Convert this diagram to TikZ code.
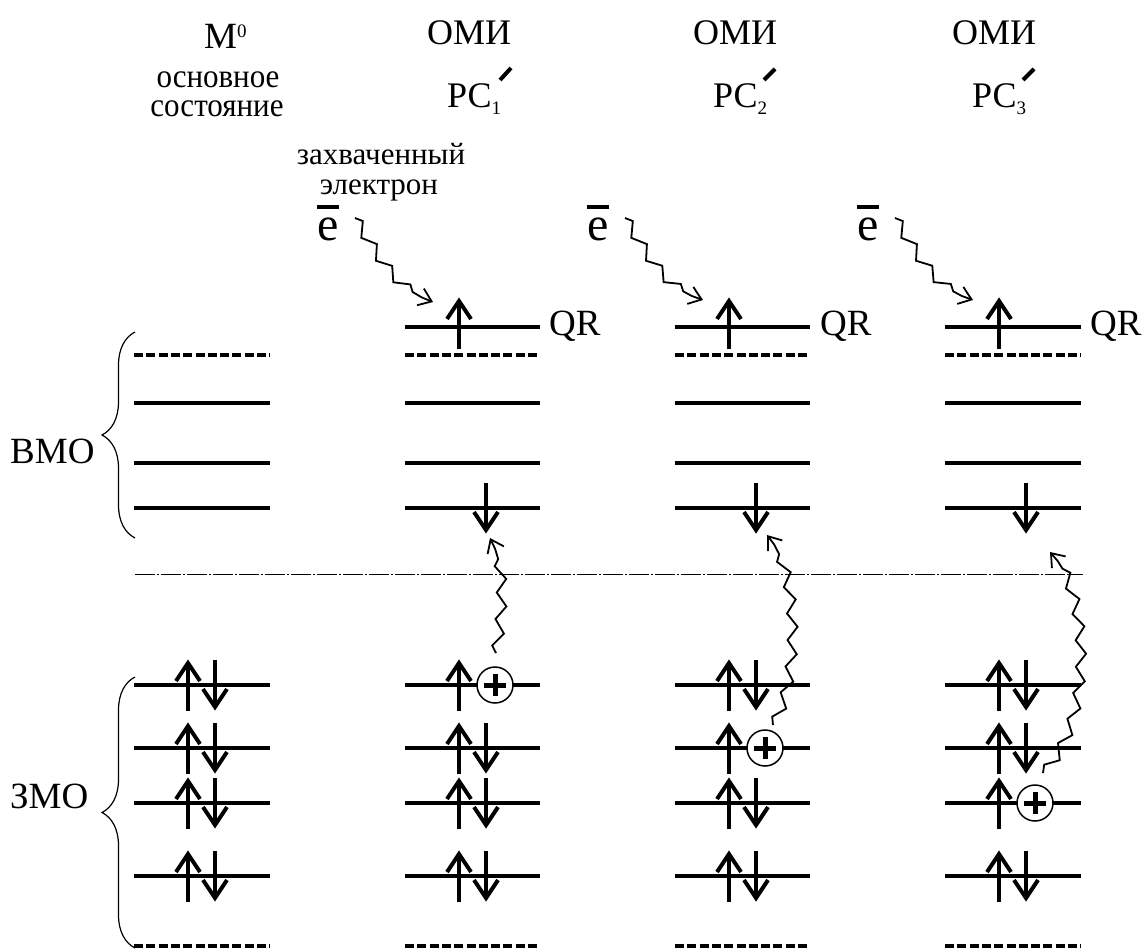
\documentclass[tikz,border=0pt]{standalone}
\usepackage{fontspec}
\setmainfont{Liberation Serif}
\usetikzlibrary{arrows.meta,decorations.pathmorphing,decorations.pathreplacing}
\tikzset{
  big/.style={font=\fontsize{36}{40}\selectfont, inner sep=0pt},
  side/.style={font=\fontsize{37}{40}\selectfont, inner sep=0pt},
  mid/.style={font=\fontsize{31}{36}\selectfont, inner sep=0pt},
  efont/.style={font=\fontsize{48}{52}\selectfont, inner sep=0pt},
  lvl/.style={line width=4pt},
  dlvl/.style={line width=4pt, dash pattern=on 9pt off 3.3pt},
  spin/.style={line width=4pt, line cap=butt, line join=miter, miter limit=10},
  upspin/.pic={\draw[spin] (0,26) -- (0,-22); \draw[spin] (-12,-4) -- (0,-22) -- (12,-4);},
  downspin/.pic={\draw[spin] (0,-25) -- (0,22); \draw[spin] (-12,4) -- (0,22) -- (12,4);},
  hole/.pic={\draw[line width=1.5pt, fill=white] (0,0) circle (18pt); \draw[line width=5pt] (-11,0) -- (11,0) (0,-11) -- (0,11);},
  squig/.style={line width=1.8pt, decorate,
    decoration={zigzag, segment length=27pt, amplitude=5pt, post length=12pt},
    -{Straight Barb[length=12pt,width=18pt]}},
  bracestyle/.style={line width=1.2pt, decorate, decoration={brace, amplitude=33pt}},
  sep/.style={line width=0.9pt, dash pattern=on 20pt off 2pt on 2pt off 2pt}
}
\begin{document}
\begin{tikzpicture}[x=1pt,y=-1pt]
\useasboundingbox (0,0) rectangle (1145,952);

% headings
\node[side, anchor=base west] (m0) at (204,49) {М\raisebox{11pt}{\fontsize{19}{19}\selectfont 0}};
\node[mid, anchor=base, text height=16pt, text depth=0pt] (osn1) at (218,88) {\scalebox{1}[1.08]{основное}};
\node[mid, anchor=base, text height=16pt, text depth=0pt] (osn2) at (217,117) {\scalebox{1}[1.08]{состояние}};
\node[big, anchor=base west] (omi2) at (427,45) {ОМИ};
\node[big, anchor=base west] (omi3) at (693,45) {ОМИ};
\node[big, anchor=base west] (omi4) at (952,45) {ОМИ};
\node[big, anchor=base west] (pc2) at (447,108) {РС\raisebox{-7pt}{\fontsize{19}{19}\selectfont 1}};
\node[big, anchor=base west] (pc3) at (713,108) {РС\raisebox{-7pt}{\fontsize{19}{19}\selectfont 2}};
\node[big, anchor=base west] (pc4) at (972,108) {РС\raisebox{-7pt}{\fontsize{19}{19}\selectfont 3}};
\draw[line width=4pt] (500,80) -- (511,68);
\draw[line width=4pt] (764,80) -- (775,69);
\draw[line width=4pt] (1023,80) -- (1034,69);

\node[mid, anchor=base, text depth=0pt] (zah) at (381,165) {захваченный};
\node[mid, anchor=base, text height=16pt, text depth=0pt] (el) at (379,194) {электрон};

% trapped electrons
\node[efont, anchor=base] (e2) at (328,240) {\makebox[0pt][l]{\rule[31pt]{22pt}{4pt}}e};
\node[efont, anchor=base] (e3) at (598,240) {\makebox[0pt][l]{\rule[31pt]{22pt}{4pt}}e};
\node[efont, anchor=base] (e4) at (868,240) {\makebox[0pt][l]{\rule[31pt]{22pt}{4pt}}e};

% side labels and braces
\node[side, anchor=base west] (vmo) at (10,463) {ВМО};
\node[side, anchor=base west] (zmo) at (10,808) {ЗМО};
\draw[bracestyle] (135,538) -- (135,332);
\draw[bracestyle] (135,948) -- (135,677);

% separator
\draw[sep] (135,574) -- (1083,574);

% levels
\foreach \xa/\xb in {134/270, 405/540, 675/810, 945/1081} {
  \draw[dlvl] (\xa,355) -- (\xb,355);
  \foreach \yy in {403,463,508,685,748,803,876} \draw[lvl] (\xa,\yy) -- (\xb,\yy);
  \draw[dlvl] (\xa,946) -- (\xb,946);
}
\foreach \xa/\xb in {405/540, 675/810, 945/1081} \draw[lvl] (\xa,327) -- (\xb,327);
\node[side, anchor=base west] (qr2) at (549,335) {QR};
\node[side, anchor=base west] (qr3) at (820,335) {QR};
\node[side, anchor=base west] (qr4) at (1090,335) {QR};

% spins: column 1
\foreach \yy in {685,748,803,876} {\pic at (188,\yy) {upspin}; \pic at (215,\yy) {downspin};}
% column 2
\pic at (459,323) {upspin};
\pic at (486,508) {downspin};
\pic at (459,685) {upspin}; \pic at (495,685) {hole};
\foreach \yy in {748,803,876} {\pic at (459,\yy) {upspin}; \pic at (486,\yy) {downspin};}
% column 3
\pic at (729,323) {upspin};
\pic at (756,508) {downspin};
\pic at (729,748) {upspin}; \pic at (765,748) {hole};
\foreach \yy in {685,803,876} {\pic at (729,\yy) {upspin}; \pic at (756,\yy) {downspin};}
% column 4
\pic at (999,323) {upspin};
\pic at (1026,508) {downspin};
\pic at (999,803) {upspin}; \pic at (1035,803) {hole};
\foreach \yy in {685,748,876} {\pic at (999,\yy) {upspin}; \pic at (1026,\yy) {downspin};}

% electron capture squiggles
\coordinate (s2) at (355,218); \coordinate (t2) at (433,302);
\coordinate (s3) at (625,218); \coordinate (t3) at (703,300);
\coordinate (s4) at (895,218); \coordinate (t4) at (973,300);
\draw[squig] (s2) .. controls (375,250) and (395,290) .. (t2);
\draw[squig] (s3) .. controls (645,250) and (665,290) .. (t3);
\draw[squig] (s4) .. controls (915,250) and (935,290) .. (t4);

% hole transfer squiggles
\coordinate (h2) at (496,653); \coordinate (d2) at (490,538);
\coordinate (h3) at (773,725); \coordinate (d3) at (767,535);
\coordinate (h4) at (1043,773); \coordinate (d4) at (1050,552);
\draw[squig] (h2) .. controls (503,610) and (506,565) .. (d2);
\draw[squig] (h3) .. controls (800,680) and (800,570) .. (d3);
\draw[squig] (h4) .. controls (1095,720) and (1090,590) .. (d4);
\end{tikzpicture}
\end{document}
